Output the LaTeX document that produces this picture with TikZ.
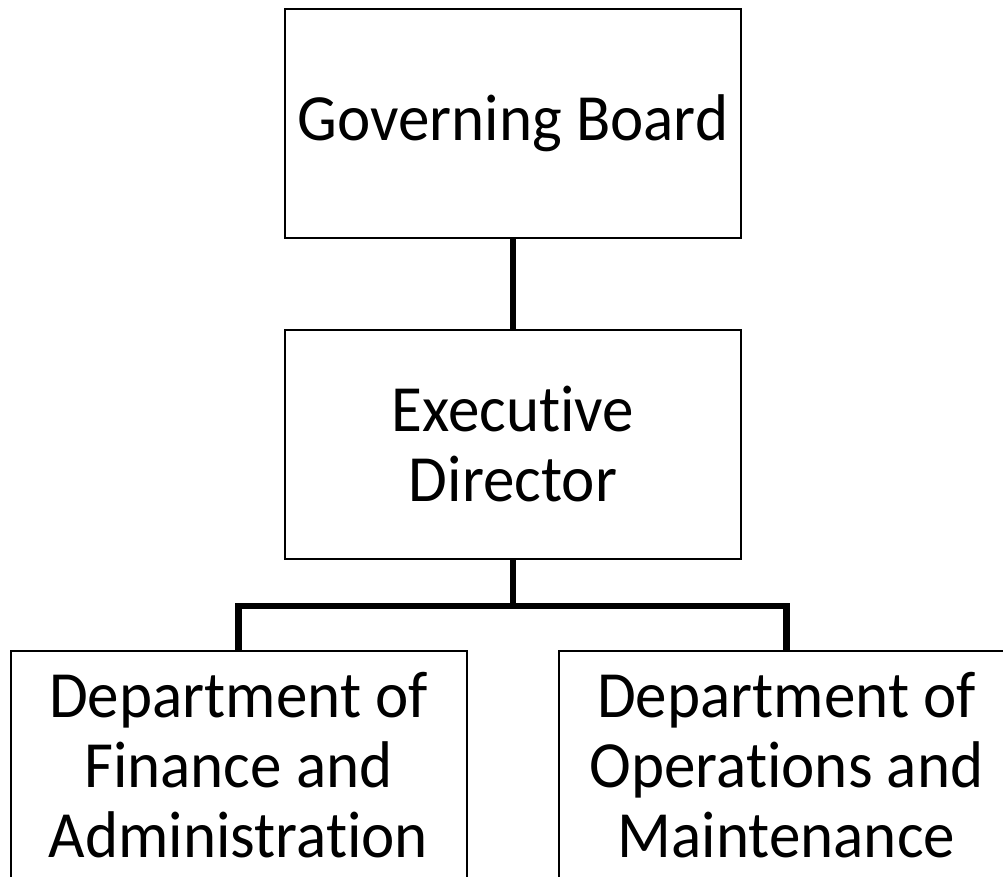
\documentclass[tikz,border=0pt]{standalone}
\usepackage{fontspec}
\setmainfont{Carlito}[Ligatures={NoCommon},FakeStretch=0.955]
\begin{document}
\begin{tikzpicture}[x=0.75pt,y=-0.75pt,
  orgbox/.style={draw=black,line width=1.5pt,fill=white,minimum width=342pt,minimum height=171.75pt,
    inner sep=0pt,align=center,font=\fontsize{49.5}{52.5}\selectfont},
  link/.style={line width=4.8pt,line join=miter}]
\useasboundingbox (0,0) rectangle (1003,877);
\clip (0,0) rectangle (1003,877);
\node[orgbox] (gb) at (513,123.5) {Governing Board};
\node[orgbox] (ed) at (513,444.5) {Executive\\Director};
\node[orgbox] (df) at (238.5,765.5) {Department of\\Finance and\\Administration};
\node[orgbox] (do) at (786.5,765.5) {Department of\\Operations and\\Maintenance};
\coordinate (split) at (513,606);
\draw[link] (gb.south) -- (ed.north);
\draw[link] (ed.south) -- (split);
\draw[link] (split) -| (df.north);
\draw[link] (split) -| (do.north);
\end{tikzpicture}
\end{document}
